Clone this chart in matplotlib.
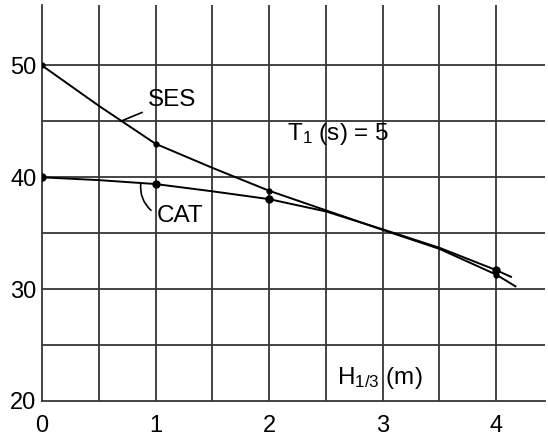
import matplotlib
matplotlib.use("Agg")
import matplotlib.pyplot as plt

plt.rcParams['font.family'] = ['Liberation Sans', 'DejaVu Sans']
plt.rcParams['mathtext.default'] = 'regular'

# Significant wave height H1/3 (m) and the two craft curves
h_ses = [0, 0.25, 0.5, 1, 1.5, 2, 2.5, 3, 3.5, 4, 4.17]
ses = [50, 48.2, 46.4, 43.0, 40.85, 38.8, 37.05, 35.3, 33.6, 31.3, 30.25]
h_cat = [0, 0.5, 1, 1.5, 2, 2.5, 3, 3.5, 4, 4.13]
cat = [40, 39.75, 39.4, 38.75, 38.05, 36.95, 35.35, 33.7, 31.7, 31.1]

marked_h = [0, 1, 2, 4]
x_ticks = [0, 1, 2, 3, 4]
y_ticks = [20, 30, 40, 50]

grid_col = '#363636'

fig = plt.figure(figsize=(5.48, 4.36), dpi=100)
ax = fig.add_axes([0.0766, 0.0803, 0.918, 0.908])

ax.set_xlim(0, 4.43)
ax.set_ylim(20, 55.4)

# hand-drawn style grid
for gx in [i * 0.5 for i in range(1, 9)]:
    ax.axvline(gx, color=grid_col, lw=1.3, zorder=1)
for gy in range(25, 55, 5):
    ax.axhline(gy, color=grid_col, lw=1.3, zorder=1)

for side in ['top', 'right']:
    ax.spines[side].set_visible(False)
for side in ['left', 'bottom']:
    ax.spines[side].set_color(grid_col)
    ax.spines[side].set_linewidth(1.3)

ax.plot(h_ses, ses, color='black', lw=1.4, zorder=3,
        marker='o', ms=3.5, markevery=[h_ses.index(v) for v in marked_h])
ax.plot(h_cat, cat, color='black', lw=1.4, zorder=3,
        marker='o', ms=5, markevery=[h_cat.index(v) for v in marked_h])

ax.set_xticks(x_ticks)
ax.set_yticks(y_ticks)
ax.tick_params(length=0, labelsize=17)
ax.tick_params(axis='x', pad=10)
ax.tick_params(axis='y', pad=4)

# curve labels with leaders
ax.annotate('SES', xy=(0.69, 45.0), xytext=(0.93, 46.9), fontsize=17.5,
            va='center', ha='left',
            arrowprops=dict(arrowstyle='-', color='black', lw=1.2,
                            shrinkA=2, shrinkB=0))
ax.annotate('', xy=(0.87, 39.45), xytext=(0.96, 37.05),
            arrowprops=dict(arrowstyle='-', color='black', lw=1.2,
                            shrinkA=0, shrinkB=0,
                            connectionstyle='arc3,rad=-0.25'))
ax.text(1.01, 36.5, 'CAT', fontsize=17.5, va='center', ha='left')

ax.text(2.16, 43.85, 'T$_1$ (s) = 5', fontsize=17.5, va='center', ha='left')
ax.text(2.6, 22.05, 'H$_{1/3}$ (m)', fontsize=17.5, va='center', ha='left')

fig.savefig('out.png', dpi=100)
